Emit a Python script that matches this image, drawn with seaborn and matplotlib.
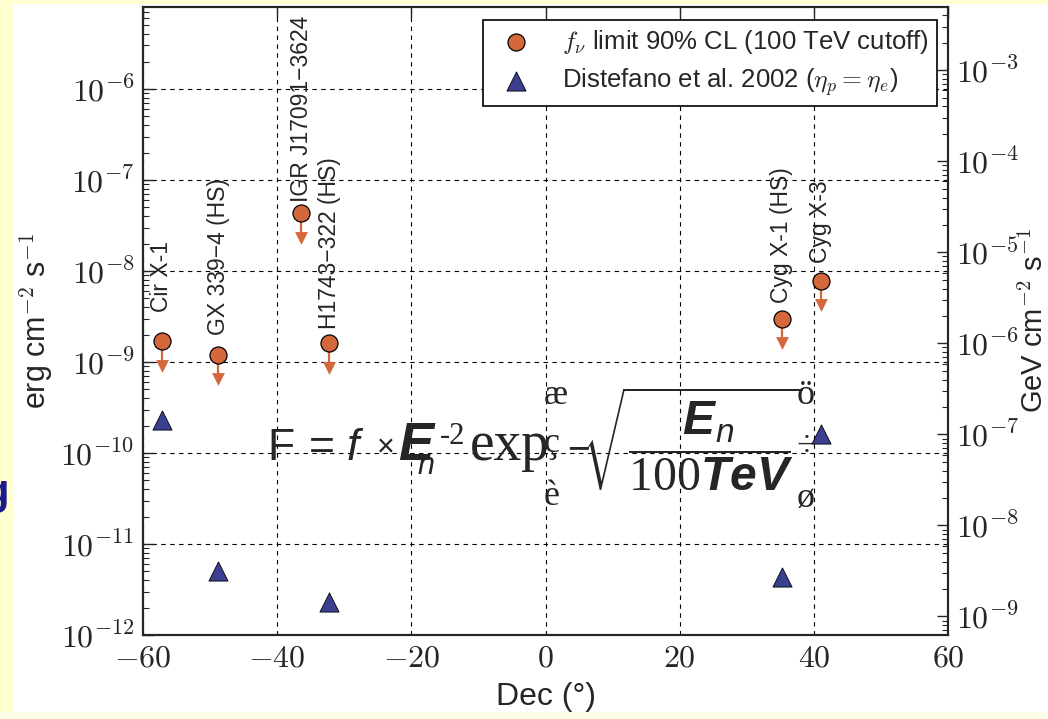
import numpy as np
import pandas as pd
import matplotlib
matplotlib.use("Agg")
import matplotlib.pyplot as plt
import seaborn as sns
from matplotlib.ticker import FuncFormatter, LogLocator, NullFormatter
from matplotlib.patches import Rectangle

# ---- data -----------------------------------------------------------------
sources = ["Cir X-1", "GX 339\u22124 (HS)", "IGR J17091\u22123624",
           "H1743\u2212322 (HS)", "Cyg X-1 (HS)", "Cyg X-3"]
dec = [-57.2, -48.8, -36.4, -32.2, 35.2, 41.0]
nu_limit = [1.7e-9, 1.2e-9, 4.3e-8, 1.6e-9, 3.0e-9, 7.8e-9]      # erg cm^-2 s^-1

model_sources = ["Cir X-1", "GX 339\u22124 (HS)", "H1743\u2212322 (HS)",
                 "Cyg X-1 (HS)", "Cyg X-3"]
model_dec = [-57.2, -48.8, -32.2, 35.2, 41.0]
model_flux = [2.3e-10, 5.1e-12, 2.3e-12, 4.3e-12, 1.6e-10]        # erg cm^-2 s^-1

xticks = [-60, -40, -20, 0, 20, 40, 60]
ERG_TO_GEV = 624.15

# ---- style ----------------------------------------------------------------
W, H = 1048, 719
sns.set_style("white")
plt.rcParams["font.family"] = ["Liberation Sans", "DejaVu Sans"]
plt.rcParams["mathtext.fontset"] = "cm"
# fonts used by the formula (math_fontfamily="custom")
plt.rcParams["mathtext.rm"] = "Liberation Serif"
plt.rcParams["mathtext.it"] = "Liberation Sans:italic"
plt.rcParams["mathtext.bf"] = "Liberation Sans:italic:bold"

ORANGE = "#D4673B"
NAVY = "#3A3F91"

fig = plt.figure(figsize=(W / 100, H / 100), dpi=100, facecolor="#FFFFCF")

def fx(px):
    return px / W

def fy(py):
    return 1 - py / H

# slide backdrop
fig.patches.append(Rectangle((fx(14), fy(712)), fx(W) - fx(14), fy(4) - fy(712),
                             transform=fig.transFigure, facecolor="white",
                             edgecolor="none", zorder=-10))
fig.patches.append(Rectangle((0, 0), 1, fy(712), transform=fig.transFigure,
                             facecolor="#FFFFE8", edgecolor="none", zorder=-10))
fig.text(fx(9), fy(504), "g", ha="right", va="baseline", fontsize=30,
         fontweight="bold", color="#1A1A8A")

ax = fig.add_axes([fx(143), fy(635), fx(948) - fx(143), fy(7) - fy(635)])
ax.set_facecolor("white")

lim = pd.DataFrame({"source": sources, "dec": dec, "flux": nu_limit})
mod = pd.DataFrame({"source": model_sources, "dec": model_dec, "flux": model_flux})

# upper-limit arrows
arrow_end = lim["flux"] * 10 ** -0.27
ax.vlines(lim["dec"], arrow_end, lim["flux"], color=ORANGE, lw=1.6, zorder=3)
ax.scatter(lim["dec"], arrow_end, marker="v", s=85, color=ORANGE,
           linewidths=0, zorder=3)

sns.scatterplot(data=lim, x="dec", y="flux", ax=ax, marker="o", s=150,
                color=ORANGE, edgecolor="black", linewidth=0.9, zorder=4,
                label=r"$f_\nu$ limit 90% CL (100 TeV cutoff)")
sns.scatterplot(data=mod, x="dec", y="flux", ax=ax, marker="^", s=190,
                color=NAVY, edgecolor="black", linewidth=0.6, zorder=4,
                label=r"Distefano et al. 2002 ($\eta_p = \eta_e$)")

# source names above each limit
label_offsets = [21, 14, 8, 10, 11.5, 13]
for name, x, y, off in zip(sources, dec, nu_limit, label_offsets):
    ax.annotate(name, (x, y), xytext=(0, off), textcoords="offset points",
                rotation=90, ha="center", va="bottom", fontsize=16.5)

ax.set_yscale("log")
ax.set_xlim(xticks[0], xticks[-1])
ax.set_ylim(1e-12, 10 ** -5.1)

ax.set_xticks(xticks)
ax.xaxis.set_major_formatter(FuncFormatter(lambda v, p: r"$%d$" % v))
ax.yaxis.set_major_locator(LogLocator(base=10, numticks=20))
ax.yaxis.set_minor_locator(LogLocator(base=10, subs=np.arange(2, 10), numticks=20))
ax.yaxis.set_major_formatter(FuncFormatter(lambda v, p: r"$10^{%d}$" % round(np.log10(v))))
ax.yaxis.set_minor_formatter(NullFormatter())

ax.tick_params(axis="both", which="major", direction="in", length=8, width=1,
               labelsize=23, top=True, right=False, pad=6)
ax.tick_params(axis="y", which="minor", direction="in", length=4, width=0.8,
               right=False)
ax.grid(True, which="major", color="black", lw=0.8, ls=(0, (4, 4)))
for s in ax.spines.values():
    s.set_linewidth(1.5)
    s.set_color("black")

ax.set_xlabel("Dec (°)", fontsize=23, labelpad=6)
ax.set_ylabel(r"erg cm$^{-2}$ s$^{-1}$", fontsize=22, labelpad=4)

# second axis in GeV units
ax2 = ax.twinx()
ax2.set_yscale("log")
ax2.set_ylim(1e-12 * ERG_TO_GEV, 10 ** -5.1 * ERG_TO_GEV)
ax2.yaxis.set_major_locator(LogLocator(base=10, numticks=20))
ax2.yaxis.set_minor_locator(LogLocator(base=10, subs=np.arange(2, 10), numticks=20))
ax2.yaxis.set_major_formatter(FuncFormatter(lambda v, p: r"$10^{%d}$" % round(np.log10(v))))
ax2.yaxis.set_minor_formatter(NullFormatter())
ax2.tick_params(axis="y", which="major", direction="in", length=8, width=1,
                labelsize=23, pad=6)
ax2.tick_params(axis="y", which="minor", direction="in", length=4, width=0.8)
ax2.set_ylabel(r"GeV cm$^{-2}$ s$^{-1}$", fontsize=21, labelpad=0)
for s in ax2.spines.values():
    s.set_linewidth(1.5)

leg = ax.legend(loc="upper right", bbox_to_anchor=(0.9863, 0.979), borderaxespad=0,
                fontsize=18.5, frameon=True, fancybox=False, edgecolor="black",
                framealpha=1, handletextpad=0.8, borderpad=0.3, labelspacing=0.4)
leg.get_frame().set_linewidth(1.2)
leg.set_zorder(10)

# spectrum formula written over the plot
def put(x, y, s, size, family="Liberation Sans", style="normal", weight="normal"):
    fig.text(fx(x), fy(y), s, ha="left", va="baseline", fontsize=size,
             family=[family, "DejaVu Sans"], style=style, weight=weight, zorder=20)

SERIF = "Liberation Serif"
put(267, 460, "F", 32)
put(309, 460, "=", 32)
put(347, 460, "f", 32, style="italic")
put(377, 456, "\u00d7", 22)
put(398, 460, "E", 38, style="italic", weight="bold")
put(418, 474, "n", 22, style="italic")
put(440, 444, "-2", 22, family=SERIF)
put(470, 460, "exp", 40, family=SERIF)
put(544, 404, "\u00e6", 26, family=SERIF)
put(544, 452, "\u00e7", 26, family=SERIF)
put(544, 505, "\u00e8", 26, family=SERIF)
put(567, 460, "\u2212", 28)
fig.text(fx(581), fy(466),
         r"$\sqrt{\dfrac{\mathbf{E}_{\mathit{n}}}{\mathrm{100}\mathbf{TeV}}}$",
         ha="left", va="baseline", fontsize=34.5, math_fontfamily="custom", zorder=20)
put(797, 404, "\u00f6", 26, family=SERIF)
put(797, 456, "\u00f7", 26, family=SERIF)
put(797, 507, "\u00f8", 26, family=SERIF)

fig.savefig("out.png", dpi=100, facecolor=fig.get_facecolor())
